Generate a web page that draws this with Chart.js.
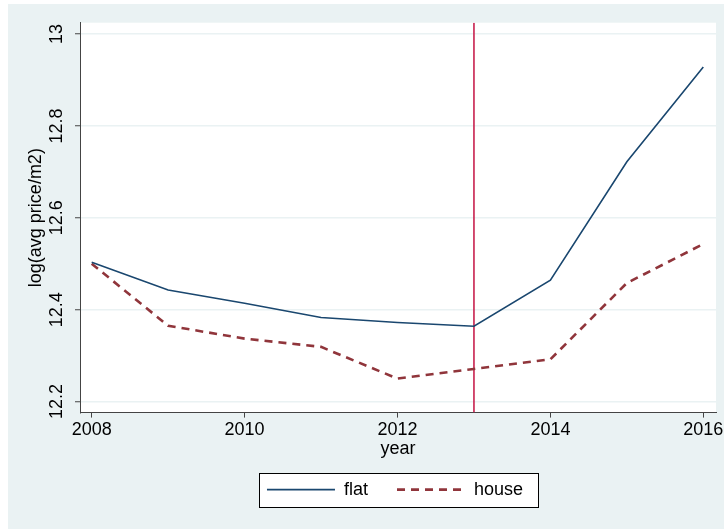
<!DOCTYPE html>
<html><head><meta charset="utf-8">
<script src="https://cdn.jsdelivr.net/npm/chart.js@4/dist/chart.umd.min.js"></script>
<style>
html,body{margin:0;padding:0;background:#fff;overflow:hidden;}
#wrap{position:absolute;left:8px;top:4px;width:716px;height:525px;background:#EAF2F3;}
</style></head><body>
<div id="wrap"><canvas id="c"></canvas></div>
<script>
const YEARS = [2008, 2009, 2010, 2011, 2012, 2013, 2014, 2015, 2016];
const FLAT  = [12.503, 12.443, 12.414, 12.383, 12.372, 12.364, 12.464, 12.722, 12.928];
const HOUSE = [12.500, 12.365, 12.337, 12.319, 12.250, 12.271, 12.292, 12.458, 12.543];
const SERIES_NAMES = ['flat', 'house'];
const X_TICKS = [2008, 2010, 2012, 2014, 2016];
const Y_TICKS = [12.2, 12.4, 12.6, 12.8, 13];
const X_RANGE = [2007.847, 2016.166];
const Y_RANGE = [12.176, 13.0246];
const EVENT_YEAR = 2013;

Chart.defaults.font.family = "'Liberation Sans', Arial, Helvetica, sans-serif";
Chart.defaults.color = '#000';

const toXY = (ys) => YEARS.map((x, i) => ({x, y: ys[i]}));

const decor = {
  id: 'decor',
  afterLayout(chart) {
    const lg = chart.legend, ca = chart.chartArea;
    lg.left = ca.left - 6;
    lg.right = ca.right;
    lg.top -= 4.4;
    lg.bottom -= 4.4;
  },
  beforeDraw(chart) {
    const ctx = chart.ctx, ca = chart.chartArea;
    ctx.save();
    ctx.fillStyle = '#fff';
    ctx.fillRect(ca.left, ca.top, ca.right - ca.left, ca.bottom - ca.top);
    const hb = chart.legend.legendHitBoxes;
    if (hb && hb.length) {
      const l = Math.round(hb[0].left - 8) + 0.5;
      const last = hb[hb.length - 1];
      const r = Math.round(last.left + last.width + 15) + 0.5;
      const cy = hb[0].top + hb[0].height / 2;
      const t = Math.round(cy - 17) + 0.5;
      ctx.fillRect(l, t, r - l, 34);
      ctx.strokeStyle = '#000';
      ctx.lineWidth = 1;
      ctx.strokeRect(l, t, r - l, 34);
    }
    ctx.restore();
  }
};

new Chart(document.getElementById('c'), {
  type: 'line',
  data: {
    datasets: [
      { label: SERIES_NAMES[0], data: toXY(FLAT), borderColor: '#1a476f', borderWidth: 1.6,
        pointRadius: 0, fill: false, tension: 0 },
      { label: SERIES_NAMES[1], data: toXY(HOUSE), borderColor: '#90353b', borderWidth: 2.6,
        borderDash: [8, 6], pointRadius: 0, fill: false, tension: 0 },
      { label: 'event', data: [{x: EVENT_YEAR, y: Y_RANGE[0]}, {x: EVENT_YEAR, y: Y_RANGE[1]}],
        borderColor: '#c8204e', borderWidth: 1.6, pointRadius: 0, fill: false }
    ]
  },
  options: {
    responsive: true,
    maintainAspectRatio: false,
    animation: false,
    layout: { padding: { left: 15.4, right: 8, top: 18.7, bottom: 16 } },
    plugins: {
      tooltip: { enabled: false },
      legend: {
        position: 'bottom',
        labels: {
          filter: (item) => item.datasetIndex < 2,
          generateLabels: (chart) => {
            const items = Chart.defaults.plugins.legend.labels.generateLabels(chart);
            return items.map(it => {
              const ds = chart.data.datasets[it.datasetIndex];
              it.lineDash = ds.borderDash || [];
              it.lineWidth = ds.borderWidth;
              it.strokeStyle = ds.borderColor;
              it.pointStyle = 'line';
              return it;
            });
          },
          usePointStyle: true,
          pointStyle: 'line',
          pointStyleWidth: 68,
          boxHeight: 18,
          padding: 29,
          color: '#000',
          font: { size: 18 }
        }
      }
    },
    scales: {
      x: {
        type: 'linear',
        min: X_RANGE[0], max: X_RANGE[1],
        afterBuildTicks: (s) => { s.ticks = X_TICKS.map(v => ({value: v})); },
        afterFit: (s) => { s.paddingRight = 0; s.paddingLeft = 0; },
        ticks: { autoSkip: false, maxRotation: 0, padding: 3, color: '#000',
                 font: { size: 18, lineHeight: 1.0 }, callback: (v) => String(v) },
        grid: { drawOnChartArea: false, drawTicks: true, tickLength: 5, tickColor: '#444', tickWidth: 1 },
        border: { display: true, color: '#444', width: 1 },
        title: { display: true, text: 'year', color: '#000', font: { size: 18, lineHeight: 0.8 },
                 padding: { top: 0, bottom: 0 } }
      },
      y: {
        type: 'linear',
        min: Y_RANGE[0], max: Y_RANGE[1],
        afterBuildTicks: (s) => { s.ticks = Y_TICKS.map(v => ({value: v})); },
        ticks: { autoSkip: false, minRotation: 90, maxRotation: 90, crossAlign: 'center', padding: 0,
                 color: '#000', font: { size: 18, lineHeight: 1.0 },
                 callback: (v) => String(+v.toFixed(1)) },
        grid: { color: '#EAF2F3', lineWidth: 1.5, drawTicks: true, tickLength: 5, tickColor: '#444', tickWidth: 1 },
        border: { display: true, color: '#444', width: 1 },
        title: { display: true, text: 'log(avg price/m2)', color: '#000', font: { size: 18 },
                 padding: { top: 2, bottom: 10 } }
      }
    }
  },
  plugins: [decor]
});
</script>
</body></html>
